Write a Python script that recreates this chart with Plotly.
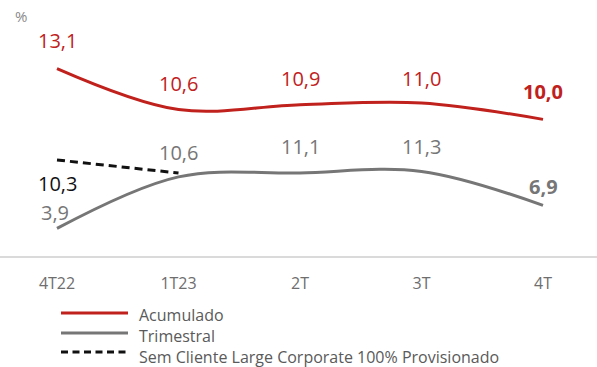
import plotly.graph_objects as go

# Quarterly periods and ratios (%)
periods = ["4T22", "1T23", "2T", "3T", "4T"]
acumulado = [13.1, 10.6, 10.9, 11.0, 10.0]
trimestral = [3.9, 10.6, 11.1, 11.3, 6.9]
sem_cliente = [10.3, 9.6]          # 4T22 -> 1T23

RED = "#c0211c"
GREY = "#767676"
BLACK = "#111111"
FONT = "Open Sans"

W, H = 597, 367
TOP, AXIS_Y = 20, 256              # plot area in pixels
PLOT_H = AXIS_Y - TOP

x = list(range(len(periods)))

fig = go.Figure()
fig.add_trace(go.Scatter(x=x, y=trimestral, yaxis="y", mode="lines",
                         line=dict(color=GREY, width=3, shape="spline", smoothing=1),
                         hoverinfo="skip"))
fig.add_trace(go.Scatter(x=x, y=acumulado, yaxis="y2", mode="lines",
                         line=dict(color=RED, width=3, shape="spline", smoothing=1),
                         hoverinfo="skip"))
fig.add_trace(go.Scatter(x=x[:2], y=sem_cliente, yaxis="y3", mode="lines",
                         line=dict(color=BLACK, width=3, dash="8px,5px"),
                         hoverinfo="skip"))

ann = []
def label(i, v, yref, color, shift, bold=False, xshift=0):
    txt = f"{v:.1f}".replace(".", ",")
    if bold:
        txt = f"<b>{txt}</b>"
    ann.append(dict(x=i, y=v, xref="x", yref=yref, text=txt, showarrow=False,
                    yshift=shift, xshift=xshift, yanchor="middle",
                    font=dict(family=FONT, size=20, color=color)))

red_shift = [28, 26, 26, 24, 28]
for i, v in enumerate(acumulado):
    label(i, v, "y2", RED, red_shift[i], bold=(i == len(acumulado) - 1))

grey_shift = [16, 24, 27, 25, 19]
grey_xshift = [-2, 0, 0, 0, 0]
for i, v in enumerate(trimestral):
    label(i, v, "y", GREY, grey_shift[i], bold=(i == len(trimestral) - 1),
          xshift=grey_xshift[i])

label(0, sem_cliente[0], "y3", BLACK, -23)

def py(pix):
    return (AXIS_Y - pix) / PLOT_H

ann.append(dict(x=21 / W, y=py(16.5), xref="paper", yref="paper", text="%",
                showarrow=False, xanchor="center", yanchor="middle",
                font=dict(family=FONT, size=15, color="#8a8a8a")))

# Legend drawn below the axis: (name, colour, dash, line y)
legend_items = [("Acumulado", RED, "solid", 313),
                ("Trimestral", GREY, "solid", 333),
                ("Sem Cliente Large Corporate 100% Provisionado", BLACK, "7px,4.5px", 352)]
shapes = []
for name, color, dash, ly in legend_items:
    shapes.append(dict(type="line", xref="paper", yref="paper",
                       x0=61 / W, x1=128 / W, y0=py(ly), y1=py(ly),
                       line=dict(color=color, width=3, dash=dash)))
ann.append(dict(x=137 / W, y=py(336), xref="paper", yref="paper",
                text="<br>".join(item[0] for item in legend_items),
                xanchor="left", yanchor="middle", align="left", showarrow=False,
                font=dict(family=FONT, size=16, color="#5a5a5a")))

px_per_x = (543 - 57) / 4
fig.update_layout(
    width=W, height=H,
    margin=dict(l=0, r=0, t=TOP, b=H - AXIS_Y),
    paper_bgcolor="white", plot_bgcolor="white",
    showlegend=False,
    xaxis=dict(range=[-57 / px_per_x, 4 + (W - 543) / px_per_x],
               tickvals=x, ticktext=periods, showgrid=False, zeroline=False,
               showline=True, linecolor="#dadada", linewidth=2,
               ticks="", ticklabelstandoff=12,
               tickfont=dict(family=FONT, size=16, color="#6e6e6e")),
    yaxis=dict(range=[0.32, 30.97], visible=False),
    yaxis2=dict(range=[1.67, 16.06], visible=False, overlaying="y"),
    yaxis3=dict(range=[5.13, 17.84], visible=False, overlaying="y"),
    annotations=ann, shapes=shapes,
)

fig.write_html("out.html")
